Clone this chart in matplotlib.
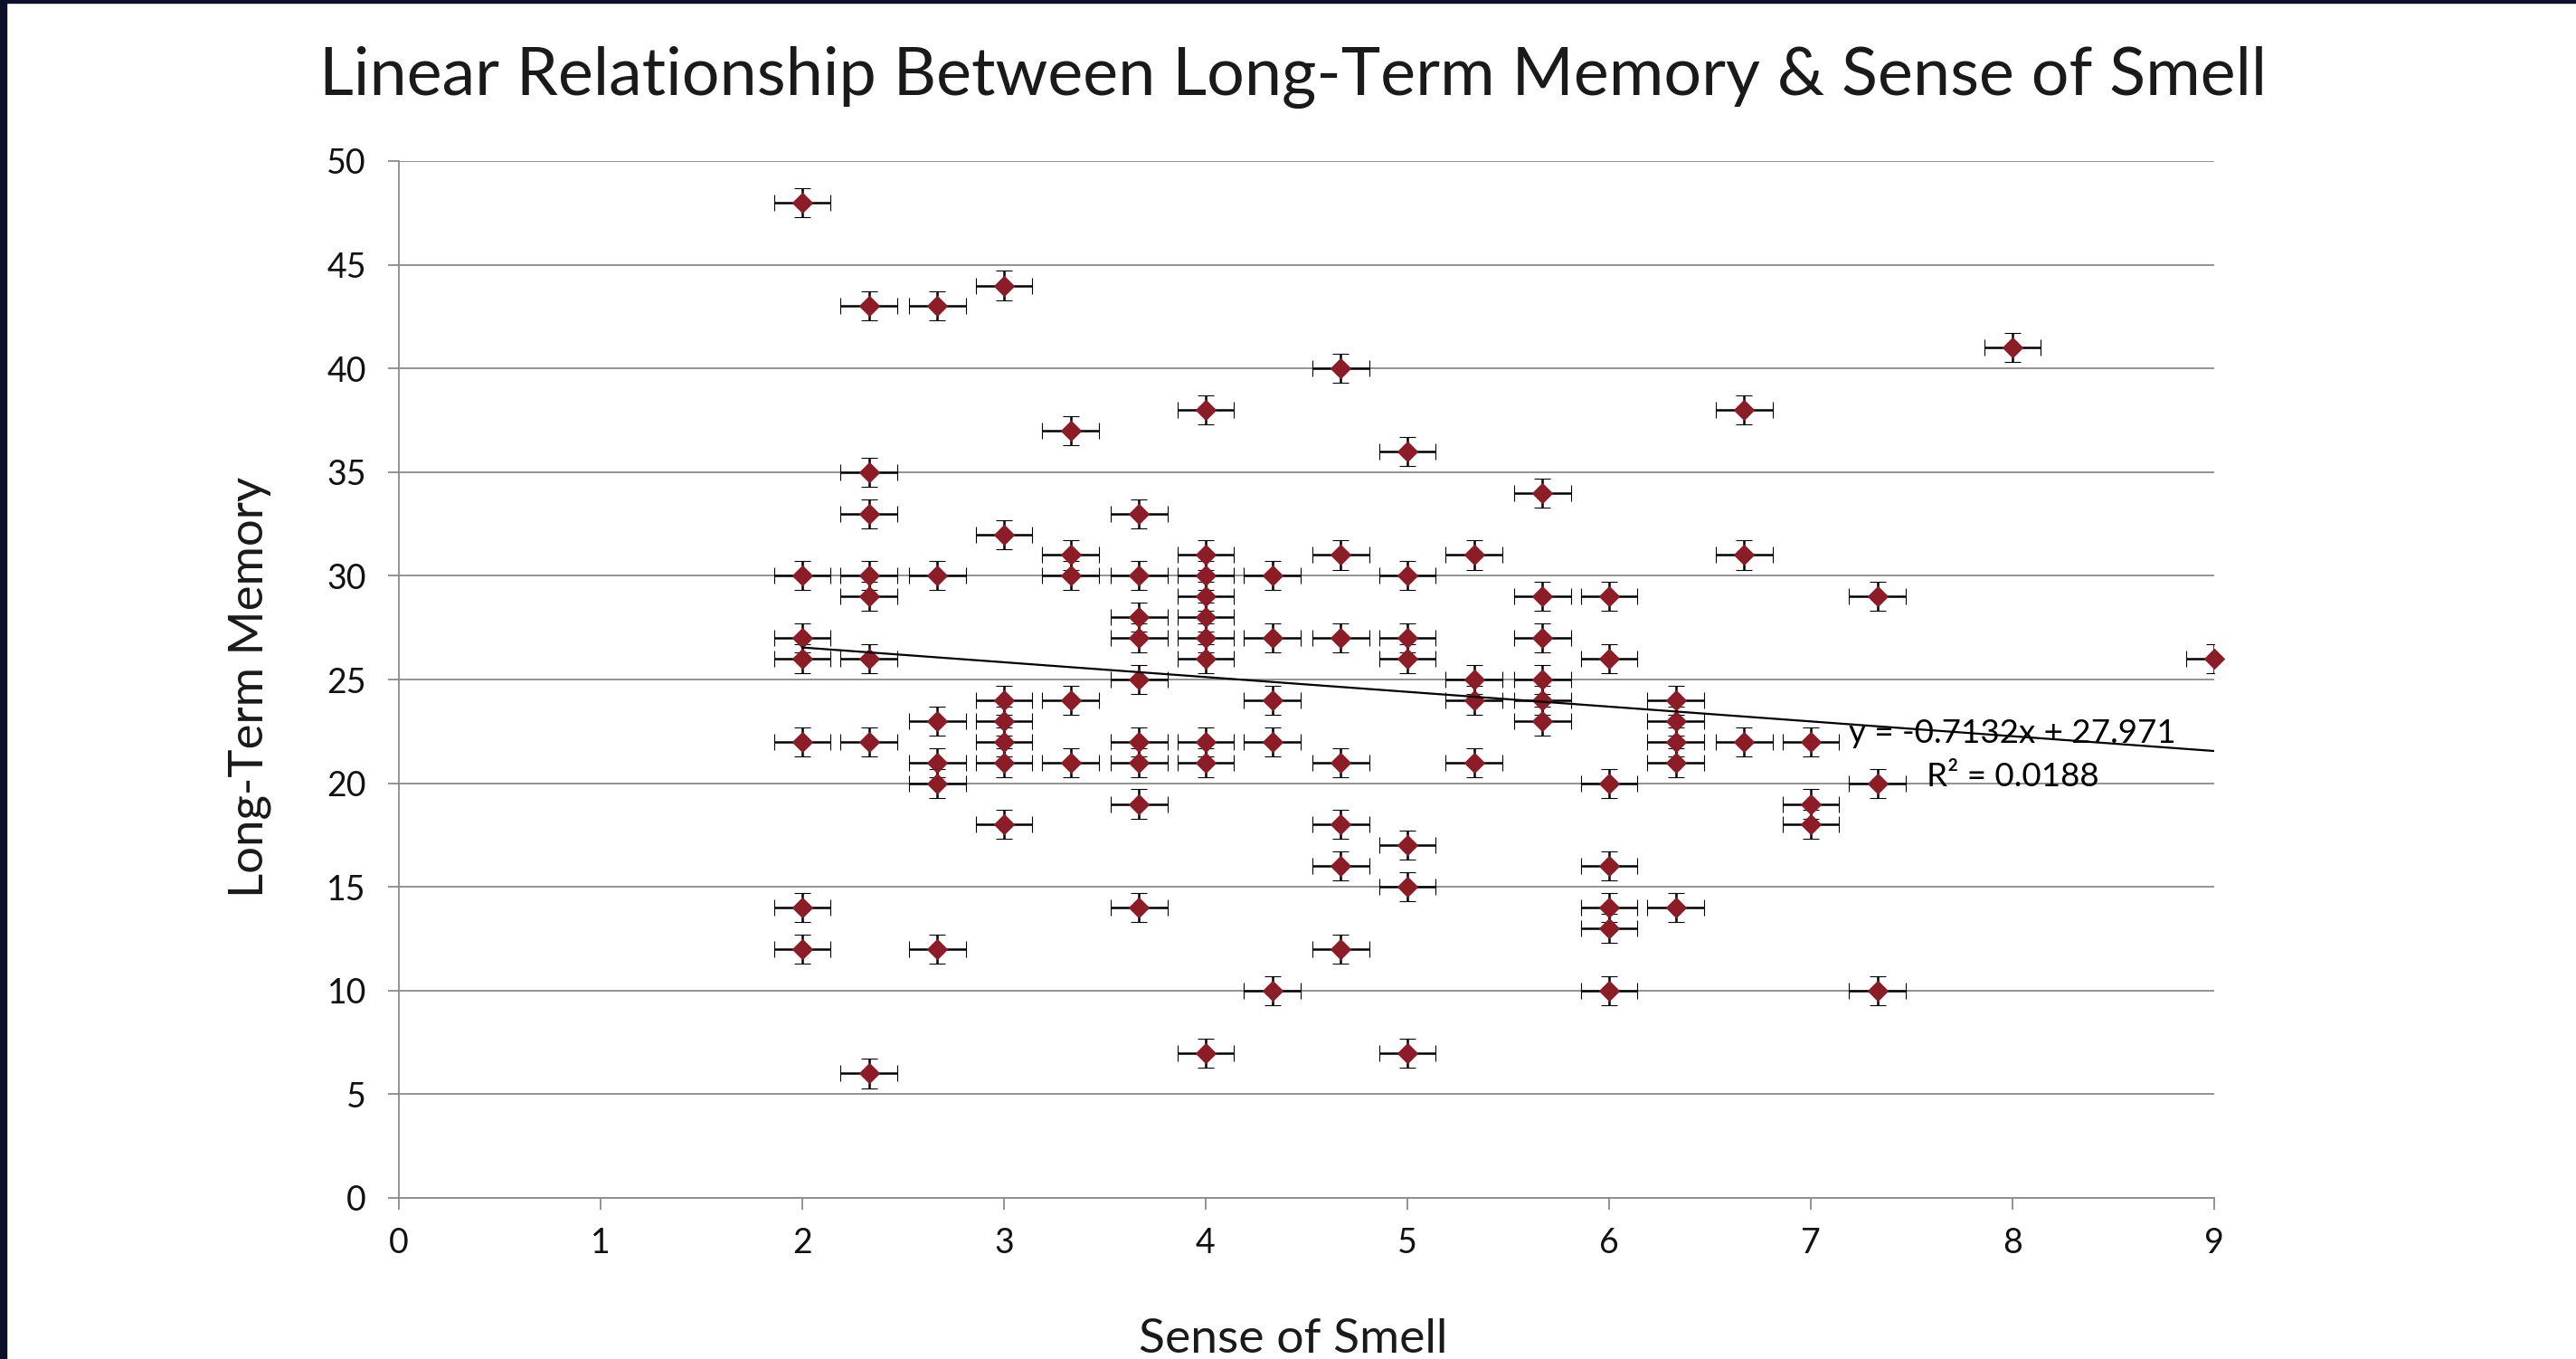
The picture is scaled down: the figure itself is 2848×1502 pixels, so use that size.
import matplotlib
matplotlib.use("Agg")
import matplotlib.pyplot as plt
from matplotlib.patches import Rectangle

plt.rcParams['font.family'] = ['Lato', 'DejaVu Sans']

# Sense of Smell (x) and Long-Term Memory (y), read column by column
smell = ([2.0] * 7 + [2.33] * 8 + [2.67] * 6 + [3.0] * 7 + [3.33] * 5
         + [3.67] * 9 + [4.0] * 10 + [4.33] * 5 + [4.67] * 7 + [5.0] * 7
         + [5.33] * 4 + [5.67] * 6 + [6.0] * 7 + [6.33] * 5 + [6.67] * 3
         + [7.0] * 3 + [7.33] * 3 + [8.0] + [9.0])
memory = [48, 30, 27, 26, 22, 14, 12,
          43, 35, 33, 30, 29, 26, 22, 6,
          43, 30, 23, 21, 20, 12,
          44, 32, 24, 23, 22, 21, 18,
          37, 31, 30, 24, 21,
          33, 30, 28, 27, 25, 22, 21, 19, 14,
          38, 31, 30, 29, 28, 27, 26, 22, 21, 7,
          30, 27, 24, 22, 10,
          40, 31, 27, 21, 18, 16, 12,
          36, 30, 27, 26, 17, 15, 7,
          31, 25, 24, 21,
          34, 29, 27, 25, 24, 23,
          29, 26, 20, 16, 14, 13, 10,
          24, 23, 22, 21, 14,
          38, 31, 22,
          22, 19, 18,
          29, 20, 10,
          41,
          26]

x_err = 0.14
y_err = 0.7

# trendline as reported on the chart
slope = -0.7132
intercept = 27.971
r_squared = 0.0188
trend_x = [2, 9]

marker_color = '#8C1D26'
grid_color = '#8A8A8A'

fig = plt.figure(figsize=(28.48, 15.02), dpi=100)
ax = fig.add_axes([441 / 2848, 178 / 1502, 2007 / 2848, 1146 / 1502])

eb = ax.errorbar(smell, memory, xerr=x_err, yerr=y_err, fmt='D', color=marker_color,
                 ms=11, mew=0.8, mec=marker_color, ecolor='black',
                 elinewidth=1.8, capsize=6.5, capthick=1.8, zorder=3)
eb[0].set_clip_on(False)

trend_y = [slope * v + intercept for v in trend_x]
ax.plot(trend_x, trend_y, color='black', lw=1.6, zorder=4)

ax.text(8.0, 22.4, 'y = %.4fx + %.3f' % (slope, intercept), fontsize=26.5,
        ha='center', va='center', zorder=5, color='black')
ax.text(8.0, 20.3, 'R\u00b2 = %.4f' % r_squared, fontsize=26.5,
        ha='center', va='center', zorder=5, color='black')

ax.set_xlim(0, 9)
ax.set_ylim(0, 50)
ax.set_xticks(range(0, 10))
ax.set_yticks(range(0, 55, 5))
ax.yaxis.grid(True, color=grid_color, lw=1.3)
ax.set_axisbelow(True)

for side in ['top', 'right']:
    ax.spines[side].set_visible(False)
for side in ['left', 'bottom']:
    ax.spines[side].set_color(grid_color)
    ax.spines[side].set_linewidth(1.3)

ax.tick_params(axis='both', direction='out', length=9, width=1.3, color=grid_color,
               labelsize=27, labelcolor='#111111')
ax.tick_params(axis='y', pad=17)
ax.tick_params(axis='x', pad=14)

fig.text(1430 / 2848, 1 - 105 / 1502,
         'Linear Relationship Between Long-Term Memory & Sense of Smell',
         fontsize=53, ha='center', va='baseline', color='#1a1a1a')
fig.text(1430 / 2848, 1 - 1495 / 1502, 'Sense of Smell', fontsize=38.5,
         ha='center', va='baseline', color='#1a1a1a')
fig.text(276 / 2848, 1 - 759 / 1502, 'Long-Term Memory', fontsize=38,
         ha='center', va='center', rotation=90, color='#1a1a1a')

# slide frame edges
fig.patches.append(Rectangle((0, 0), 7 / 2848, 1, transform=fig.transFigure,
                             color='#0E0F2B', zorder=10))
fig.patches.append(Rectangle((0, 1 - 3 / 1502), 1, 3 / 1502, transform=fig.transFigure,
                             color='#0E0F2B', zorder=10))

fig.savefig('out.png', dpi=100)
